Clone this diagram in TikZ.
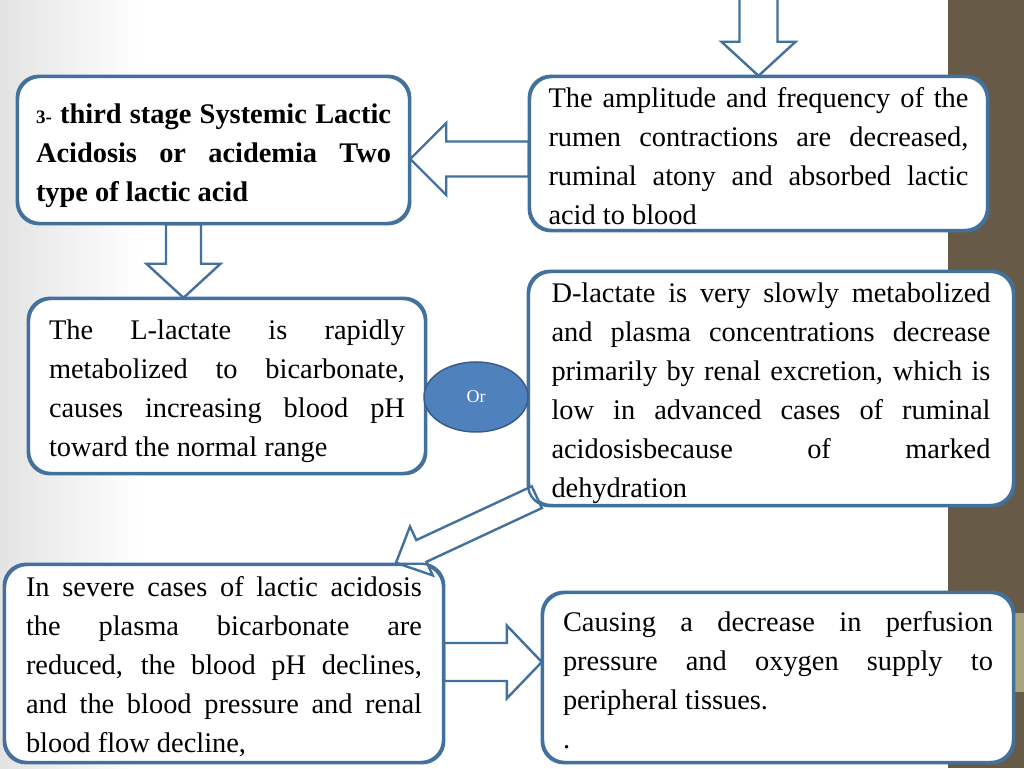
\documentclass[tikz,border=0pt]{standalone}
\usepackage{fontspec}
\setmainfont{Liberation Serif}
\usetikzlibrary{shapes.geometric,calc}

\definecolor{boxblue}{HTML}{41719C}
\definecolor{orfill}{HTML}{4F81BD}
\definecolor{orline}{HTML}{385D8A}
\definecolor{stripbrown}{HTML}{675B47}
\definecolor{stripsand}{HTML}{A9A47E}

% one justified line of a box
\newcommand{\jl}[1]{\makebox[\hsize][s]{\spaceskip=0pt\xspaceskip=0pt\relax #1}\\}
% strut on the first line, pushes the text down
\newcommand{\fl}[1]{\rule{0pt}{#1}}
% hollow block arrow: from, to, shaft half width, head half width, head length
\newcommand{\blockarrow}[5]{%
  \path ($(#2)!#5!(#1)$) coordinate (hb);
  \draw[barrow] ($(#1)!#3!90:(#2)$) -- ($(hb)!#3!-90:(#1)$) -- ($(hb)!#4!-90:(#1)$)
    -- (#2) -- ($(hb)!#4!90:(#1)$) -- ($(hb)!#3!90:(#1)$) -- ($(#1)!#3!-90:(#2)$) -- cycle;}

\begin{document}
\begin{tikzpicture}[x=1pt, y=1pt,
    box/.style={draw=boxblue, line width=2.4pt, rounded corners=22pt, fill=white,
      align=flush left, inner sep=0pt, font=\fontsize{28.4}{39}\selectfont},
    barrow/.style={draw=boxblue, line width=2.4pt, fill=white, line join=miter},
    orbubble/.style={ellipse, draw=orline, line width=1.5pt, fill=orfill, text=white,
      minimum width=104pt, minimum height=70pt, inner sep=0pt,
      font=\fontsize{18}{20}\selectfont}
  ]

  % Background and side strip
  \useasboundingbox (0,0) rectangle (1024,768);
  \fill[white] (0,0) rectangle (1024,768);
  \shade[left color=gray!22, right color=white] (0,0) rectangle (140,768);
  \fill[stripbrown] (948,0) rectangle (1024,768);
  \fill[stripsand] (1015,76) rectangle (1024,155);

  % Define boxes
  \node[box, text width=355pt, minimum width=391pt, minimum height=146pt,
    font=\fontsize{28.4}{39}\selectfont\bfseries] (stage) at (213.5,618) {%
    \jl{\fl{31.5pt}{\fontsize{19}{39}\selectfont 3-} third stage Systemic Lactic}
    \jl{Acidosis or acidemia Two}
    type of lactic acid};
  \node[box, text width=420pt, minimum width=457pt, minimum height=153pt] (amp) at (758.5,614.5) {%
    \jl{\fl{25.5pt}The amplitude and frequency of the}
    \jl{rumen contractions are decreased,}
    \jl{ruminal atony and absorbed lactic}
    acid to blood};
  \node[box, text width=356pt, minimum width=396pt, minimum height=174pt] (llac) at (227,382) {%
    \jl{\fl{29.5pt}The L-lactate is rapidly}
    \jl{metabolized to bicarbonate,}
    \jl{causes increasing blood pH}
    toward the normal range};
  \node[box, text width=439pt, minimum width=484pt, minimum height=233pt] (dlac) at (771,379.5) {%
    \jl{\fl{29.5pt}D-lactate is very slowly metabolized}
    \jl{and plasma concentrations decrease}
    \jl{primarily by renal excretion, which is}
    \jl{low in advanced cases of ruminal}
    \jl{acidosisbecause of marked}
    dehydration};
  \node[box, text width=396pt, minimum width=438pt, minimum height=197pt] (severe) at (224,104.5) {%
    \jl{\fl{25.5pt}In severe cases of lactic acidosis}
    \jl{the plasma bicarbonate are}
    \jl{reduced, the blood pH declines,}
    \jl{and the blood pressure and renal}
    blood flow decline,};
  \node[box, text width=430pt, minimum width=470pt, minimum height=169pt] (perf) at (778,90.5) {%
    \jl{\fl{25pt}Causing a decrease in perfusion}
    \jl{pressure and oxygen supply to}
    peripheral tissues.\\
    .};

  % Arrow ends
  \coordinate (top) at (758.5,772);
  \coordinate (l1) at ($(amp.west)+(0,-5.5)$);
  \coordinate (l2) at ($(stage.east)+(0,-9)$);
  \coordinate (d1) at ($(stage.south)+(-30,0)$);
  \coordinate (d2) at ($(llac.north)+(-43.5,0)$);
  \coordinate (g1) at ($(dlac.south west)+(9,9)$);
  \coordinate (g2) at ($(severe.north)+(172,1)$);
  \coordinate (r1) at ($(severe.east)+(0,1.5)$);
  \coordinate (r2) at ($(perf.west)+(0,15.5)$);

  % Block arrows
  \blockarrow{top}{amp.north}{19pt}{37pt}{34pt}
  \blockarrow{l1}{l2}{17.5pt}{36pt}{36pt}
  \blockarrow{d1}{d2}{17.5pt}{37pt}{34pt}
  \blockarrow{g1}{g2}{12pt}{27pt}{28pt}
  \blockarrow{r1}{r2}{19pt}{36.5pt}{35pt}

  % Box outlines again over the arrow ends
  \foreach \b in {stage,amp,llac,dlac,severe,perf} {
    \draw[draw=boxblue, line width=2.4pt, rounded corners=22pt]
      (\b.south west) rectangle (\b.north east);
  }

  \node[orbubble] (or) at (476,371) {Or};

\end{tikzpicture}
\end{document}
